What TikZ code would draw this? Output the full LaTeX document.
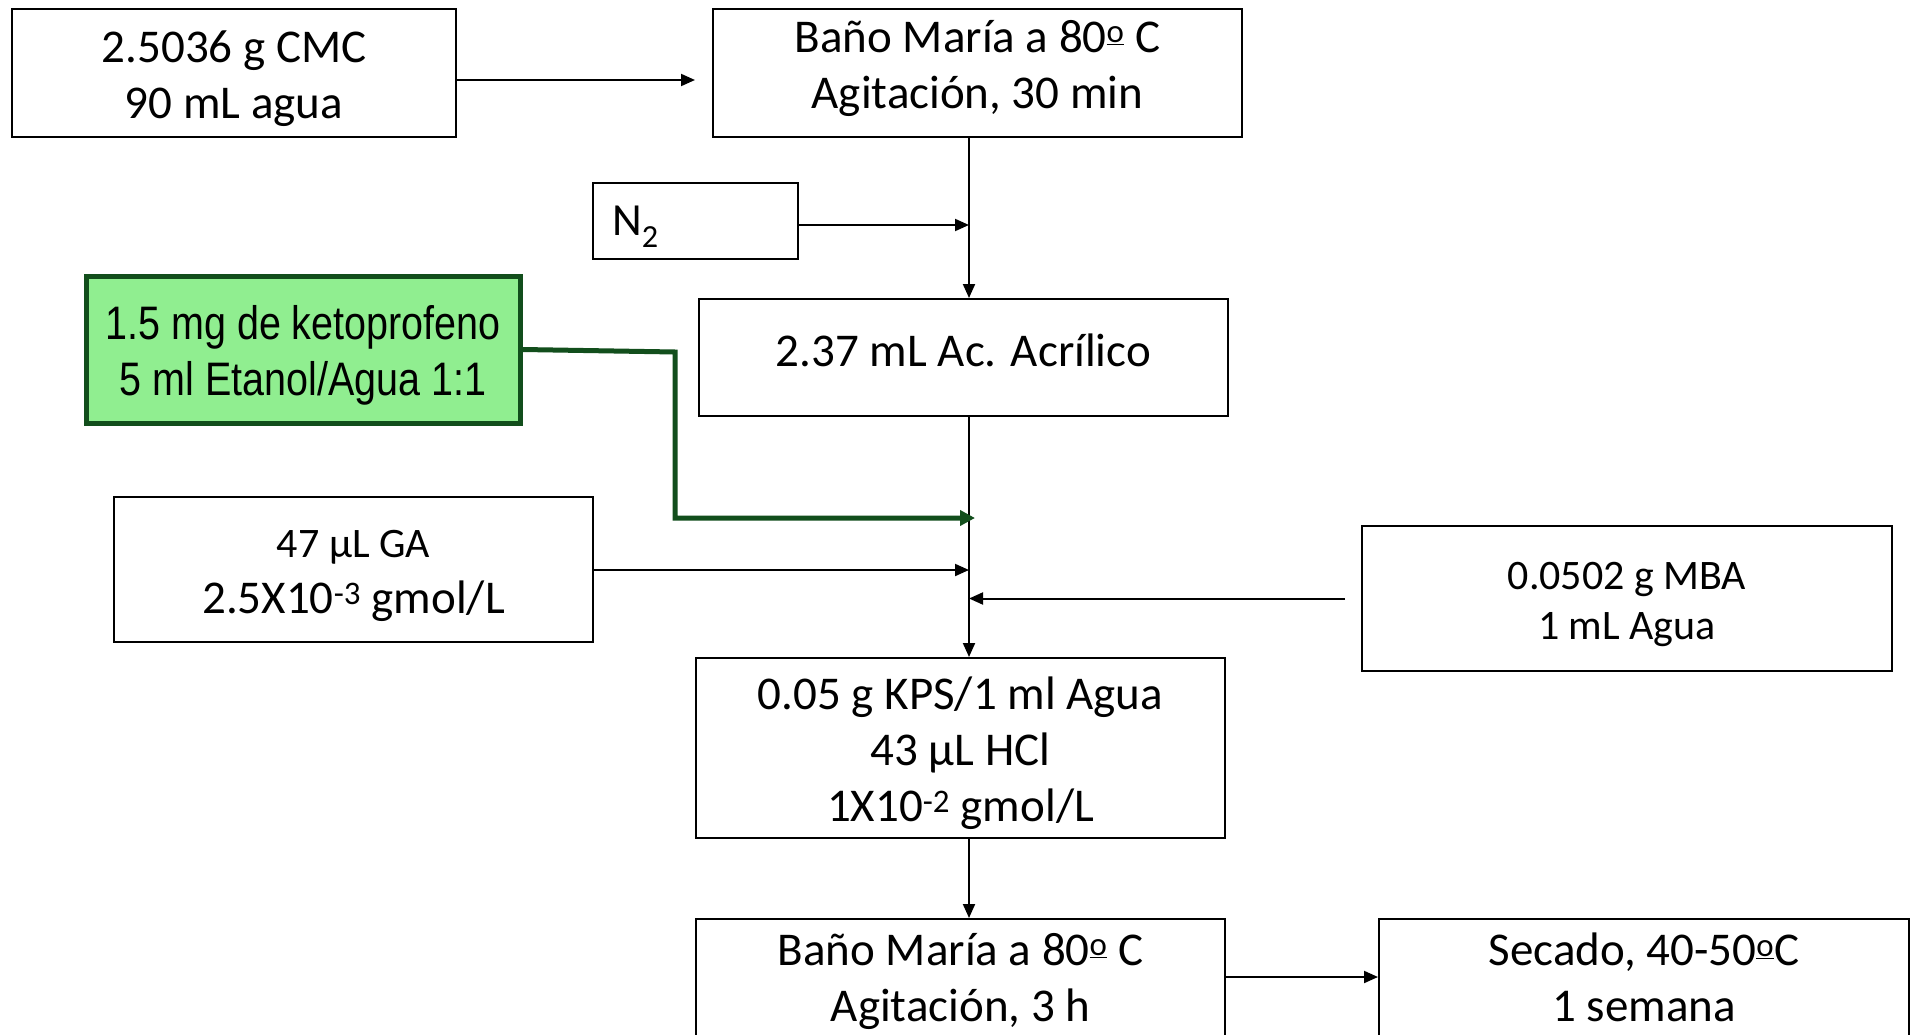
\documentclass[tikz,border=0pt]{standalone}
\usepackage{fontspec}
\setmainfont{Carlito}
\newfontfamily\narrowfont[FakeStretch=0.84]{Liberation Sans}
\newcommand{\ordo}{\textsuperscript{\underline{o}}}
\usetikzlibrary{arrows.meta}

\definecolor{ketofill}{RGB}{144,238,144}
\definecolor{ketoline}{RGB}{18,78,28}

\tikzset{
    box/.style={draw, line width=2pt, inner sep=0pt},
    txt/.style={inner sep=0pt, align=center, font=\fontsize{47}{56}\selectfont},
    arr/.style={line width=2pt, -{Triangle[length=14pt,width=12pt]}},
    greenarr/.style={draw=ketoline, line width=5pt,
        -{Triangle[length=15pt,width=15pt]}}
}

\begin{document}
\begin{tikzpicture}[x=1pt,y=-1pt]
    % Page
    \fill[white] (0,0) rectangle (1924,1035);
    \clip (0,0) rectangle (1924,1035);

    % Main line x position
    \coordinate (trunk) at (969,0);

    % Draw boxes
    \node[box, minimum width=444pt, minimum height=128pt] (cmc) at (234,73) {};
    \node[box, minimum width=529pt, minimum height=128pt] (bano1) at (977.5,73) {};
    \node[box, minimum width=205pt, minimum height=76pt] (n2) at (695.5,221) {};
    \node[box, minimum width=529pt, minimum height=117pt] (acr) at (963.5,357.5) {};
    \node[box, draw=ketoline, fill=ketofill, line width=5pt, minimum width=434pt, minimum height=147pt] (keto) at (303,349.5) {};
    \node[box, minimum width=479pt, minimum height=145pt] (ga) at (353.5,569.5) {};
    \node[box, minimum width=530pt, minimum height=145pt] (mba) at (1627,598.5) {};
    \node[box, minimum width=529pt, minimum height=180pt] (kps) at (960.5,748) {};
    \node[box, minimum width=529pt, minimum height=124pt] (bano2) at (960.5,981) {};
    \node[box, minimum width=530pt, minimum height=124pt] (secado) at (1644,981) {};

    % Box texts
    \node[txt] (cmc-t) at ([yshift=-6pt]cmc) {2.5036 g CMC\\90 mL agua};
    \node[txt] (bano1-t) at ([yshift=5pt]bano1) {Baño María a 80\ordo{} C\\Agitación, 30 min};
    \node[txt, anchor=west, font=\fontsize{46}{56}\selectfont] (n2-t) at ([xshift=20pt,yshift=-6pt]n2.west) {N\textsubscript{2}};
    \node[txt] (acr-t) at ([yshift=7pt]acr) {2.37 mL Ac. Acrílico};
    \node[txt, font=\narrowfont\fontsize{47}{56}\selectfont] (keto-t) at ([yshift=-6pt]keto) {1.5 mg de ketoprofeno\\5 ml Etanol/Agua 1:1};
    \node[txt] (ga-t) at ([yshift=-6pt]ga) {{\fontsize{42}{50}\selectfont 47 µL GA}\\2.5X10\textsuperscript{-3} gmol/L};
    \node[txt, font=\fontsize{42}{50}\selectfont] (mba-t) at ([yshift=-6pt]mba) {0.0502 g MBA\\1 mL Agua};
    \node[txt] (kps-t) at ([yshift=-5pt]kps) {0.05 g KPS/1 ml Agua\\43 µL HCl\\1X10\textsuperscript{-2} gmol/L};
    \node[txt] (bano2-t) at (bano2) {Baño María a 80\ordo{} C\\Agitación, 3 h};
    \node[txt] (secado-t) at ([yshift=4pt]secado) {Secado, 40-50\ordo{}C\\1 semana};

    % Connectors
    \draw[arr] ([yshift=-7pt]cmc.east) -- ([xshift=-17pt,yshift=-7pt]bano1.west);
    \draw[line width=2pt] (bano1.south -| trunk) -- (n2.east -| trunk);
    \draw[arr] (n2.east -| trunk) -- (acr.north -| trunk);
    \draw[arr] ([yshift=-4pt]n2.east) -- ([yshift=-4pt]n2.east -| trunk);
    \draw[arr] (acr.south -| trunk) -- (kps.north -| trunk);
    \draw[greenarr] (keto.east) -- (675,352) -- (675,518) -- ([xshift=6pt]trunk |- 0,518);
    \draw[arr] ([yshift=-0.5pt]ga.east) -- ([yshift=-0.5pt]ga.east -| trunk);
    \draw[arr] ([xshift=-16pt]mba.west) -- (mba.west -| trunk);
    \draw[arr] (kps.south -| trunk) -- (bano2.north -| trunk);
    \draw[arr] ([yshift=4pt]bano2.east) -- ([yshift=4pt]secado.west);

\end{tikzpicture}
\end{document}
